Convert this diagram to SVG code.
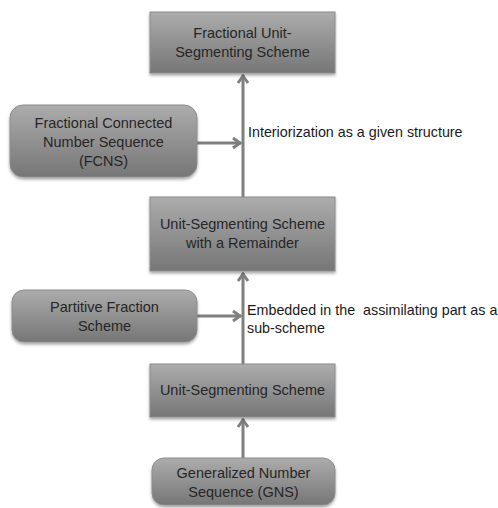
<svg xmlns="http://www.w3.org/2000/svg" width="498" height="508" viewBox="0 0 498 508">
<defs>
<linearGradient id="g" x1="0" y1="0" x2="0" y2="1">
<stop offset="0" stop-color="#acacac"/>
<stop offset="1" stop-color="#767676"/>
</linearGradient>
<filter id="sh" x="-10%" y="-10%" width="120%" height="130%">
<feDropShadow dx="0" dy="2" stdDeviation="1.5" flood-color="#000" flood-opacity="0.35"/>
</filter>
<marker id="ah" markerUnits="userSpaceOnUse" viewBox="0 0 14 14" refX="12" refY="7" markerWidth="14" markerHeight="14" orient="auto">
<path d="M4,2 L11,7 L4,12" fill="none" stroke="#7f7f7f" stroke-width="3" stroke-linejoin="miter"/>
</marker>
</defs>
<style>
.box{fill:url(#g);stroke:#8c8c8c;stroke-width:1;filter:url(#sh)}
.t{font-family:"Liberation Sans",Arial,sans-serif;font-size:14.5px;fill:#262626;text-anchor:middle}
.a{font-family:"Liberation Sans",Arial,sans-serif;font-size:14.3px;fill:#1a1a1a;white-space:pre}
.c{stroke:#7f7f7f;stroke-width:3;fill:none;marker-end:url(#ah)}
</style>
<g id="connectors">
<line class="c" x1="243" y1="197" x2="243" y2="75"/>
<line class="c" x1="197" y1="143" x2="241" y2="143"/>
<line class="c" x1="243" y1="364" x2="243" y2="273"/>
<line class="c" x1="197" y1="316" x2="241" y2="316"/>
<line class="c" x1="243" y1="458" x2="243" y2="419"/>
</g>
<g id="fus">
<rect class="box" x="150" y="12" width="185" height="61"/>
<text class="t" x="242.5" y="38">Fractional Unit-</text>
<text class="t" x="242.5" y="57">Segmenting Scheme</text>
</g>
<g id="fcns">
<rect class="box" x="10" y="105" width="187" height="72" rx="13"/>
<text class="t" x="103.5" y="128">Fractional Connected</text>
<text class="t" x="103.5" y="147">Number Sequence</text>
<text class="t" x="103.5" y="166">(FCNS)</text>
</g>
<g id="label1">
<text class="a" x="248" y="137">Interiorization as a given structure</text>
</g>
<g id="usr">
<rect class="box" x="150" y="197" width="185" height="74"/>
<text class="t" x="242.5" y="229">Unit-Segmenting Scheme</text>
<text class="t" x="242.5" y="248">with a Remainder</text>
</g>
<g id="pfs">
<rect class="box" x="12" y="290" width="185" height="52" rx="12"/>
<text class="t" x="104.5" y="312">Partitive Fraction</text>
<text class="t" x="104.5" y="331">Scheme</text>
</g>
<g id="label2">
<text class="a" x="247" y="315">Embedded in the  assimilating part as a</text>
<text class="a" x="247" y="333">sub-scheme</text>
</g>
<g id="uss">
<rect class="box" x="150" y="364" width="185" height="53"/>
<text class="t" x="242.5" y="395">Unit-Segmenting Scheme</text>
</g>
<g id="gns">
<rect class="box" x="152" y="458" width="183" height="47" rx="12"/>
<text class="t" x="243.5" y="478">Generalized Number</text>
<text class="t" x="243.5" y="497">Sequence (GNS)</text>
</g>
</svg>
